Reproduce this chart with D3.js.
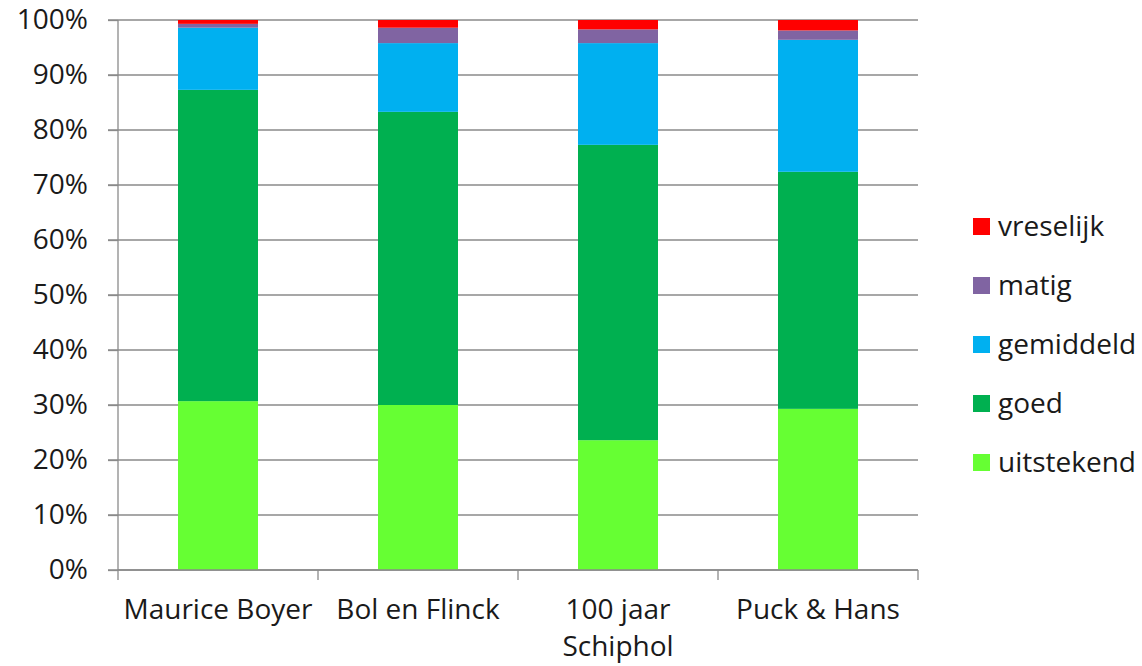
<!DOCTYPE html>
<html>
<head>
<meta charset="utf-8">
<script src="https://cdn.jsdelivr.net/npm/d3@7"></script>
<style>
  body { margin: 0; background: #fff; }
  text { font-family: "Open Sans", sans-serif; fill: #1a1a1a; }
</style>
</head>
<body>
<div id="chart"></div>
<script>
var categories = ["Maurice Boyer", "Bol en Flinck", "100 jaar Schiphol", "Puck & Hans"];
var seriesNames = ["uitstekend", "goed", "gemiddeld", "matig", "vreselijk"];
var colors = ["#66ff33", "#00b050", "#00b0f0", "#8064a2", "#ff0000"];

// percentages per category
var uitstekend = [30.7, 30.0, 23.6, 29.3];
var goed       = [56.6, 53.3, 53.7, 43.1];
var gemiddeld  = [11.3, 12.5, 18.5, 24.0];
var matig      = [0.7, 2.8, 2.5, 1.7];
var vreselijk  = [0.7, 1.4, 1.7, 1.9];

var yTicks = [0, 0.1, 0.2, 0.3, 0.4, 0.5, 0.6, 0.7, 0.8, 0.9, 1];

var values = [uitstekend, goed, gemiddeld, matig, vreselijk];
var table = categories.map(function (c, i) {
  var row = { name: c };
  seriesNames.forEach(function (s, j) { row[s] = values[j][i]; });
  return row;
});

var width = 1142, height = 666;
var plotLeft = 118, plotRight = 918, plotTop = 20, plotBottom = 570;

var svg = d3.select("#chart").append("svg")
  .attr("width", width)
  .attr("height", height);

var x = d3.scaleBand()
  .domain(categories)
  .range([plotLeft, plotRight])
  .paddingInner(0.6)
  .paddingOuter(0.3);

var y = d3.scaleLinear()
  .domain([0, 1])
  .range([plotBottom, plotTop]);

// gridlines
svg.append("g")
  .selectAll("line")
  .data(yTicks)
  .enter()
  .append("line")
  .attr("x1", plotLeft - 10)
  .attr("x2", plotRight)
  .attr("y1", d => y(d))
  .attr("y2", d => y(d))
  .attr("stroke", "#8a8a8a")
  .attr("stroke-width", 1.3);

// stacked bars
var stack = d3.stack().keys(seriesNames)
  .value(function (d, k) { return d[k] / 100; });
var stacked = stack(table);

svg.append("g")
  .selectAll("g")
  .data(stacked)
  .enter()
  .append("g")
  .attr("fill", (d, i) => colors[i])
  .selectAll("rect")
  .data(d => d)
  .enter()
  .append("rect")
  .attr("x", d => x(d.data.name))
  .attr("width", x.bandwidth())
  .attr("y", d => y(Math.min(d[1], 1)))
  .attr("height", d => y(d[0]) - y(Math.min(d[1], 1)));

// y axis
var yAxis = d3.axisLeft(y)
  .tickValues(yTicks)
  .tickFormat(d3.format(".0%"))
  .tickSize(10)
  .tickPadding(20);

var gy = svg.append("g")
  .attr("transform", "translate(" + plotLeft + ",0)")
  .call(yAxis);
gy.select(".domain").attr("stroke", "#8a8a8a").attr("stroke-width", 1.3)
  .attr("d", "M0," + plotTop + "V" + plotBottom);
gy.selectAll(".tick line").attr("stroke", "#8a8a8a").attr("stroke-width", 1.3);
gy.selectAll(".tick text")
  .attr("font-size", 28)
  .attr("font-family", "Open Sans")
  .attr("fill", "#1a1a1a");

// x axis with ticks between the categories
var boundaries = d3.range(categories.length + 1).map(i => plotLeft + i * x.step());

svg.append("line")
  .attr("x1", plotLeft)
  .attr("x2", plotRight)
  .attr("y1", plotBottom)
  .attr("y2", plotBottom)
  .attr("stroke", "#8a8a8a")
  .attr("stroke-width", 1.3);

svg.append("g")
  .selectAll("line")
  .data(boundaries)
  .enter()
  .append("line")
  .attr("x1", d => d)
  .attr("x2", d => d)
  .attr("y1", plotBottom)
  .attr("y2", plotBottom + 10)
  .attr("stroke", "#8a8a8a")
  .attr("stroke-width", 1.3);

var catLabels = [["Maurice Boyer"], ["Bol en Flinck"], ["100 jaar", "Schiphol"], ["Puck & Hans"]];

svg.append("g")
  .selectAll("text")
  .data(categories)
  .enter()
  .append("text")
  .attr("x", d => x(d) + x.bandwidth() / 2)
  .attr("y", 619)
  .attr("font-size", 28)
  .attr("text-anchor", "middle")
  .each(function (d, i) {
    var t = d3.select(this);
    catLabels[i].forEach(function (line, j) {
      t.append("tspan")
        .attr("x", x(d) + x.bandwidth() / 2)
        .attr("dy", j == 0 ? 0 : 37)
        .text(line);
    });
  });

// legend
var legend = svg.append("g")
  .selectAll("g")
  .data(seriesNames.slice().reverse())
  .enter()
  .append("g")
  .attr("transform", (d, i) => "translate(973," + (226 + i * 59) + ")");

legend.append("rect")
  .attr("x", 0)
  .attr("y", -8)
  .attr("width", 17)
  .attr("height", 17)
  .attr("fill", d => colors[seriesNames.indexOf(d)]);

legend.append("text")
  .text(d => d)
  .attr("x", 25)
  .attr("y", 0)
  .attr("dy", "0.35em")
  .attr("font-size", 28);
</script>
</body>
</html>
